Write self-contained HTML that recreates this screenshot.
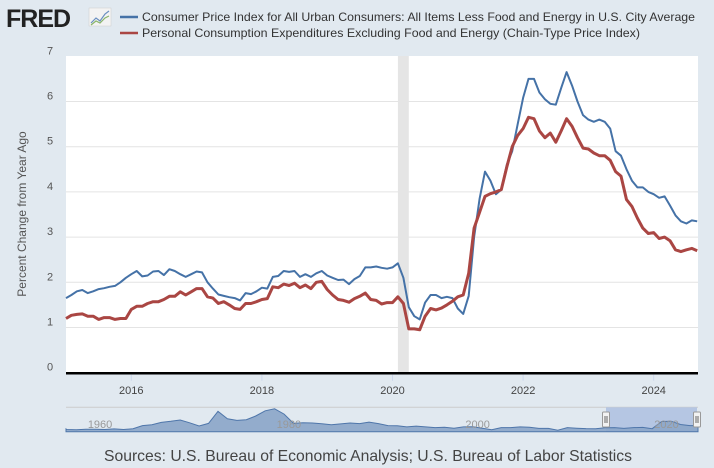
<!DOCTYPE html>
<html><head><meta charset="utf-8"><style>
html,body{margin:0;padding:0;background:#e1e9f0;}
svg{display:block;font-family:"Liberation Sans",sans-serif;}
</style></head><body>
<svg id="chart" width="714" height="468" viewBox="0 0 714 468" xmlns="http://www.w3.org/2000/svg">
<rect x="0" y="0" width="714" height="468" fill="#e1e9f0"/>
<g>
<text x="6" y="27" font-size="25" font-weight="bold" fill="#222" letter-spacing="-1">FRED</text>
<rect x="89" y="8" width="22" height="18" fill="#f3f3f3" stroke="#ccc" stroke-width="0.5"/>
<polyline points="91,23 96,18 100,21 105,14 109,11" fill="none" stroke="#6a8fc0" stroke-width="1.2"/>
<polyline points="91,25 96,21 100,23 105,18 109,16" fill="none" stroke="#8ab56a" stroke-width="1.2"/>
</g>
<g>
<g>
<line x1="120" y1="17" x2="138" y2="17" stroke="#4572a7" stroke-width="2.5"/>
<text x="142" y="21" font-size="12" fill="#333" textLength="553" lengthAdjust="spacingAndGlyphs">Consumer Price Index for All Urban Consumers: All Items Less Food and Energy in U.S. City Average</text>
</g>
<g>
<line x1="120" y1="33" x2="138" y2="33" stroke="#aa4643" stroke-width="2.5"/>
<text x="142" y="37" font-size="12" fill="#333" textLength="498" lengthAdjust="spacingAndGlyphs">Personal Consumption Expenditures Excluding Food and Energy (Chain-Type Price Index)</text>
</g>
</g>
<rect x="66" y="56" width="632" height="317" fill="#fff"/>
<g id="grid"></g>
<g id="recession"></g>
<g id="series"></g>
<g id="yticks"></g>
<g id="xticks"></g>
<text transform="translate(26,214) rotate(-90)" text-anchor="middle" font-size="12" fill="#555">Percent Change from Year Ago</text>
<g id="nav"></g>
<text x="368" y="461" text-anchor="middle" font-size="16" fill="#444" textLength="528" lengthAdjust="spacingAndGlyphs">Sources: U.S. Bureau of Economic Analysis; U.S. Bureau of Labor Statistics</text>
</svg>
<script>
const cpiValues = [1.65,1.72,1.8,1.83,1.76,1.8,1.85,1.87,1.9,1.92,2.0,2.1,
2.18,2.25,2.13,2.15,2.24,2.25,2.16,2.29,2.25,2.18,2.12,2.18,
2.24,2.22,2.0,1.86,1.73,1.7,1.67,1.65,1.6,1.76,1.74,1.8,
1.88,1.86,2.12,2.14,2.25,2.23,2.25,2.12,2.18,2.12,2.2,2.25,
2.15,2.1,2.05,2.06,1.96,2.07,2.14,2.33,2.33,2.35,2.32,2.3,
2.33,2.42,2.1,1.45,1.25,1.18,1.55,1.72,1.72,1.65,1.68,1.65,
1.42,1.3,1.7,3.0,3.85,4.45,4.25,3.95,4.05,4.6,4.9,5.5,
6.08,6.5,6.5,6.2,6.05,5.95,5.93,6.3,6.65,6.35,6.0,5.7,
5.6,5.55,5.6,5.55,5.4,4.9,4.8,4.5,4.25,4.1,4.1,4.0,
3.95,3.87,3.9,3.7,3.48,3.35,3.3,3.37,3.35];
const pceValues = [1.2,1.27,1.29,1.3,1.25,1.25,1.18,1.22,1.22,1.18,1.2,1.2,
1.4,1.47,1.47,1.53,1.57,1.57,1.62,1.69,1.69,1.79,1.72,1.79,
1.86,1.86,1.68,1.65,1.53,1.57,1.5,1.42,1.4,1.53,1.53,1.57,
1.62,1.64,1.9,1.88,1.96,1.93,1.98,1.88,1.94,1.86,2.0,2.02,
1.84,1.72,1.62,1.6,1.56,1.64,1.69,1.76,1.62,1.6,1.52,1.55,
1.55,1.68,1.53,0.97,0.97,0.95,1.25,1.42,1.39,1.43,1.5,1.58,
1.68,1.72,2.2,3.2,3.55,3.9,3.96,4.0,4.05,4.55,5.0,5.25,
5.4,5.65,5.62,5.35,5.2,5.3,5.1,5.35,5.62,5.45,5.2,4.97,
4.95,4.86,4.8,4.8,4.7,4.45,4.35,3.83,3.68,3.42,3.2,3.08,
3.1,2.97,3.0,2.92,2.72,2.68,2.72,2.75,2.7];
const startYear = 2015;
const yTicks = [0,1,2,3,4,5,6,7];
const xTickYears = [2016,2018,2020,2022,2024];
const recessionStart = [2020.083];
const recessionEnd = [2020.25];
const navYears = [1957,1958,1959,1960,1961,1962,1963,1964,1965,1966,1967,1968,1969,1970,1971,1972,1973,1974,1975,1976,1977,1978,1979,1980,1981,1982,1983,1984,1985,1986,1987,1988,1989,1990,1991,1992,1993,1994,1995,1996,1997,1998,1999,2000,2001,2002,2003,2004,2005,2006,2007,2008,2009,2010,2011,2012,2013,2014,2015,2016,2017,2018,2019,2020,2021,2022,2023,2024];
const navValues = [1.5,1.2,1.0,1.3,1.3,1.2,1.5,1.2,1.6,3.3,3.8,5.0,5.6,6.3,4.8,3.1,4.5,11.0,7.0,6.1,6.5,8.5,11.3,12.4,9.5,4.5,4.8,4.7,4.3,3.8,4.2,4.7,4.4,5.2,4.4,3.3,3.2,2.6,3.0,2.6,2.2,2.4,1.9,2.6,2.7,1.9,1.1,2.2,2.2,2.6,2.4,1.8,1.8,0.8,2.2,1.9,1.7,1.6,2.1,2.2,1.8,2.2,2.3,1.6,5.5,5.7,3.9,3.3];
const navLabels = [1960,1980,2000,2020];

const NS='http://www.w3.org/2000/svg';
const L=66,R=698,T=56,B=372.7;
const x0=2015.0, pxPerYear=65.3;
function xs(yr){return L+(yr-x0)*pxPerYear;}
function ys(v){return B-v*45.2;}
function mk(tag,attrs,parent){const e=document.createElementNS(NS,tag);for(const k in attrs)e.setAttribute(k,attrs[k]);parent.appendChild(e);return e;}
const grid=document.getElementById('grid'),yt=document.getElementById('yticks'),xt=document.getElementById('xticks');
yTicks.forEach(v=>{
  if(v>0&&v<7){const g=mk('line',{x1:L,x2:R,y1:ys(v),y2:ys(v),stroke:'#e4e4e4','stroke-width':1},grid);
  
  }
  const t=mk('text',{x:50,y:ys(v)-2,'text-anchor':'middle','font-size':11,fill:'#555'},yt);
  t.textContent=v;
  
  
});
const rec=document.getElementById('recession');
recessionStart.forEach((s,i)=>{
  const r=mk('rect',{x:xs(s),y:T,width:xs(recessionEnd[i])-xs(s),height:B-T,fill:'#e5e5e5'},rec);
  
  
});
const axisLine=mk('line',{x1:L,x2:R,y1:B+0.5,y2:B+0.5,stroke:'#000','stroke-width':2.5},xt);


xTickYears.forEach(yr=>{
  const tk=mk('line',{x1:xs(yr),x2:xs(yr),y1:B+2,y2:B+8,stroke:'#ccd6eb'},xt);
  
  
  const t=mk('text',{x:xs(yr),y:394,'text-anchor':'middle','font-size':11,fill:'#444'},xt);
  t.textContent=yr;
  
  
});
const ser=document.getElementById('series');
function line(vals,color,w,name){
  const pts=vals.map((v,i)=>xs(startYear+i/12).toFixed(1)+','+ys(v).toFixed(1)).join(' ');
  const p=mk('polyline',{points:pts,fill:'none',stroke:color,'stroke-width':w,'stroke-linejoin':'round'},ser);
  
  
}
line(cpiValues,'#4572a7',2,'cpi-line');
line(pceValues,'#aa4643',3,'pce-line');
// navigator
const nav=document.getElementById('nav');
const NT=407.3,NB=431.7,nx0=1957.9,npx=9.44;
function nxs(yr){return L+(yr-nx0)*npx;}
function nys(v){return NB-v*1.85;}
const topLine=mk('line',{x1:L,x2:R,y1:NT,y2:NT,stroke:'#ccc'},nav);


const sel=mk('rect',{x:606,y:NT,width:697-606,height:NB-NT,fill:'#b5c6e3'},nav);


let d='M'+L+','+NB+' L'+L+','+nys(navValues[0]).toFixed(1);
navYears.forEach((yr,i)=>{const xx=nxs(yr);if(xx>=L)d+=' L'+Math.min(R,xx).toFixed(1)+','+nys(navValues[i]).toFixed(1);});
d+=' L'+R+','+nys(navValues[navValues.length-1]).toFixed(1)+' L'+R+','+NB+' Z';
const area=mk('path',{d:d,fill:'#8ba5c8',stroke:'#4f76aa','stroke-width':1,'fill-opacity':0.9},nav);


navLabels.forEach(yr=>{
  const t=mk('text',{x:nxs(yr)+2,y:428,'font-size':11,fill:'#999'},nav);
  t.textContent=yr;
  
  
});
[606,697].forEach((hx,i)=>{
  const h=mk('rect',{x:hx-3.5,y:412,width:7,height:15,fill:'#f2f2f2',stroke:'#999','stroke-width':1,rx:1},nav);
  
  
  mk('line',{x1:hx-1,x2:hx-1,y1:416,y2:423,stroke:'#666'},nav);
  mk('line',{x1:hx+1,x2:hx+1,y1:416,y2:423,stroke:'#666'},nav);
});
</script>
</body></html>
